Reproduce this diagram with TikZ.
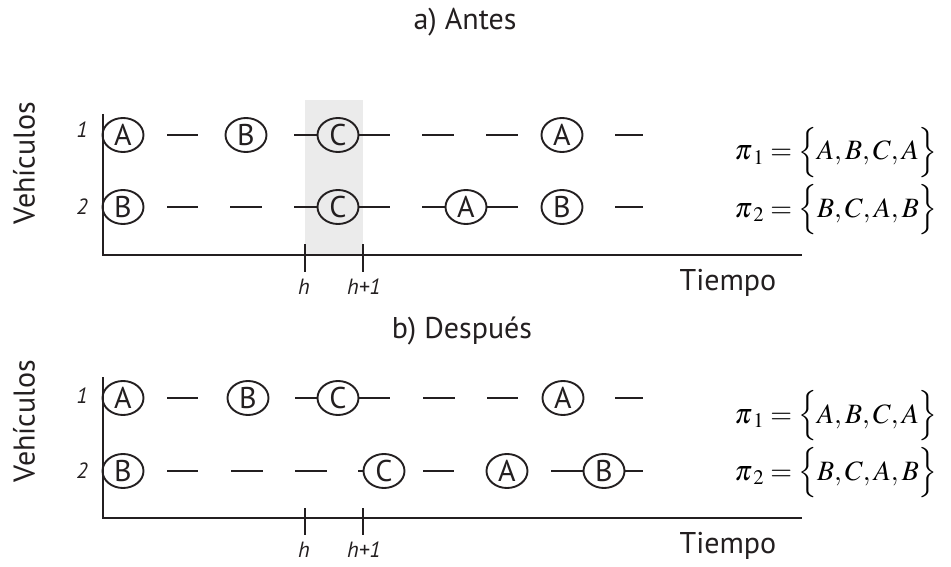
\documentclass[tikz,border=0pt]{standalone}
\usepackage{mathptmx}
\usepackage[no-math]{fontspec}
\setmainfont{PT Sans}
\usetikzlibrary{shapes.geometric}
\definecolor{boxgrey}{RGB}{235,235,235}
\definecolor{ink}{RGB}{35,31,32}
\tikzset{
  veh/.style={draw=ink, ellipse, line width=1.9pt, minimum width=41pt, minimum height=34pt,
              inner sep=0pt, text=ink, font=\fontsize{30}{32}\selectfont},
  seg/.style={draw=ink, line width=2.8pt},
  axisline/.style={draw=ink, line width=2.9pt},
  biglabel/.style={text=ink, font=\fontsize{30}{34}\selectfont},
  smalllabel/.style={text=ink, font=\fontsize{22}{25}\selectfont\itshape},
  seqlabel/.style={anchor=west, text=black, font=\fontsize{28}{34}\selectfont},
}
\newcommand{\seqpi}[1]{\pi_{\mkern3mu #1}}
\begin{document}
\begin{tikzpicture}[x=1pt, y=-1pt]
\useasboundingbox (0,0) rectangle (951,567);

% ---------------- a) Antes ----------------
\fill[boxgrey] (305,100) rectangle (363,255);
\node[biglabel] (ta) at (465,22) {a) Antes};
\node[biglabel, rotate=90] (tv) at (24,163) {Vehículos};
\node[smalllabel] (t1) at (82,130) {1};
\node[smalllabel] (t2) at (82,207) {2};
\coordinate (tY) at (103,114);
\coordinate (tO) at (103,255);
\coordinate (tX) at (802,255);
\draw[axisline] (tY) -- (tO) -- (tX);
\coordinate (th) at (305,255);
\coordinate (thp) at (363,255);
\draw[axisline] ([yshift=11pt]th) -- ([yshift=-17pt]th);
\draw[axisline] ([yshift=11pt]thp) -- ([yshift=-17pt]thp);
\node[smalllabel] (thl) at (304,287) {h};
\node[smalllabel] (thpl) at (364,287) {h+1};
\node[biglabel] (tt) at (728,283) {Tiempo};

% vehicle 1
\node[veh] (ta1) at (123,135) {A};
\node[veh] (tb1) at (246,135) {B};
\node[veh] (tc1) at (338,135) {C};
\node[veh] (ta2) at (562,135) {A};
\draw[seg] (167,135) -- (198,135);
\draw[seg] (294,135) -- (tc1.west);
\draw[seg] (tc1.east) -- (390,135);
\draw[seg] (422,135) -- (454,135);
\draw[seg] (486,135) -- (518,135);
\draw[seg] (615,135) -- (643,135);
% vehicle 2
\node[veh] (tb3) at (123,207) {B};
\node[veh] (tc3) at (338,207) {C};
\node[veh] (ta3) at (466,207) {A};
\node[veh] (tb4) at (562,207) {B};
\draw[seg] (167,207) -- (198,207);
\draw[seg] (230,207) -- (262,207);
\draw[seg] (294,207) -- (tc3.west);
\draw[seg] (tc3.east) -- (390,207);
\draw[seg] (422,207) -- (ta3.west);
\draw[seg] (ta3.east) -- (518,207);
\draw[seg] (615,207) -- (643,207);

\node[seqlabel] (tp1) at (731,153) {$\seqpi{1}=\Bigl\{A,B,C,A\Bigr\}$};
\node[seqlabel] (tp2) at (731,210) {$\seqpi{2}=\Bigl\{B,C,A,B\Bigr\}$};

% ---------------- b) Después ----------------
\node[biglabel] (ba) at (462,331) {b) Después};
\node[biglabel, rotate=90] (bv) at (24,421) {Vehículos};
\node[smalllabel] (b1) at (82,396) {1};
\node[smalllabel] (b2) at (82,471) {2};
\coordinate (bY) at (103,377);
\coordinate (bO) at (103,518);
\coordinate (bX) at (802,518);
\draw[axisline] (bY) -- (bO) -- (bX);
\coordinate (bh) at (305,518);
\coordinate (bhp) at (363,518);
\draw[axisline] ([yshift=10pt]bh) -- ([yshift=-17pt]bh);
\draw[axisline] ([yshift=10pt]bhp) -- ([yshift=-17pt]bhp);
\node[smalllabel] (bhl) at (304,550) {h};
\node[smalllabel] (bhpl) at (364,550) {h+1};
\node[biglabel] (bt) at (728,546) {Tiempo};

% vehicle 1
\node[veh] (ba1) at (123,398) {A};
\node[veh] (bb1) at (248,398) {B};
\node[veh] (bc1) at (338,398) {C};
\node[veh] (ba2) at (563,398) {A};
\draw[seg] (167,398) -- (198,398);
\draw[seg] (295,398) -- (bc1.west);
\draw[seg] (bc1.east) -- (390,398);
\draw[seg] (423,398) -- (455,398);
\draw[seg] (487,398) -- (518,398);
\draw[seg] (615,398) -- (643,398);
% vehicle 2
\node[veh] (bb3) at (123,471) {B};
\node[veh] (bc3) at (384,471) {C};
\node[veh] (ba3) at (507,471) {A};
\node[veh] (bb4) at (604,471) {B};
\draw[seg] (167,471) -- (198,471);
\draw[seg] (231,471) -- (263,471);
\draw[seg] (295,471) -- (327,471);
\draw[seg] (358,471) -- (bc3.west);
\draw[seg] (423,471) -- (454,471);
\draw[seg] (551,471) -- (bb4.west);
\draw[seg] (bb4.east) -- (643,471);

\node[seqlabel] (bp1) at (731,416) {$\seqpi{1}=\Bigl\{A,B,C,A\Bigr\}$};
\node[seqlabel] (bp2) at (731,473) {$\seqpi{2}=\Bigl\{B,C,A,B\Bigr\}$};
\end{tikzpicture}
\end{document}
